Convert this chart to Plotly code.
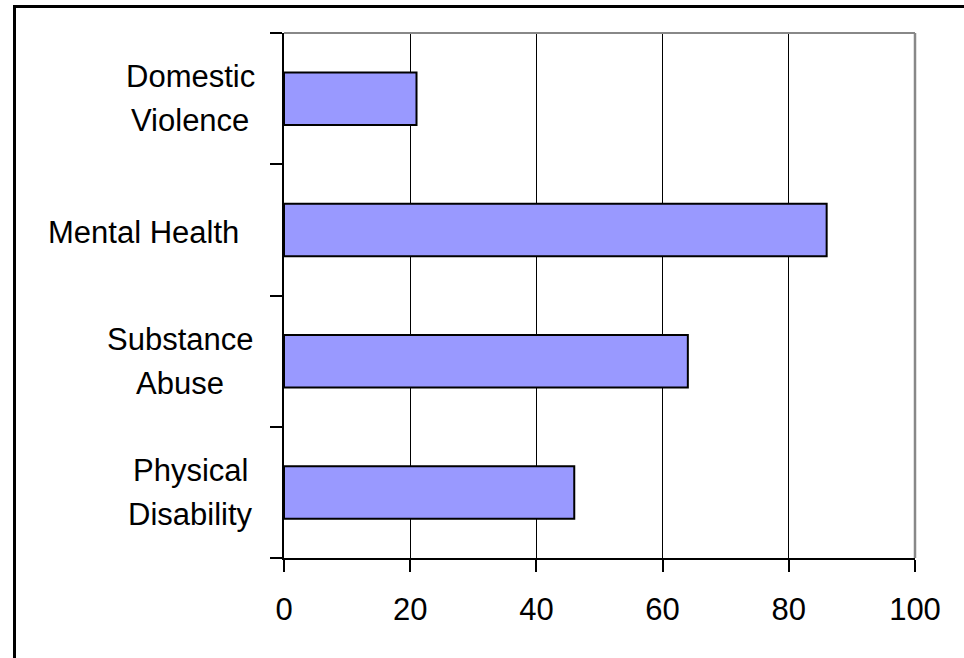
import plotly.graph_objects as go

categories = ["Domestic Violence", "Mental Health", "Substance Abuse", "Physical Disability"]
values = [21, 86, 64, 46]
label_lines = [["Domestic", "Violence"], ["Mental Health\u00a0"], ["Substance", "Abuse"], ["Physical", "Disability"]]
x_ticks = [0, 20, 40, 60, 80, 100]

W, H = 964, 658
L, R, T, B = 284, 49, 33, 100
pw = W - L - R
ph = H - T - B

def px_to_paper_x(px):
    return (px - L) / pw

def px_to_paper_y(py):
    return (H - B - py) / ph

FONT = "Liberation Sans, Arial, sans-serif"
FS = 31

fig = go.Figure()
fig.add_trace(go.Bar(
    y=categories, x=values, orientation="h",
    marker=dict(color="#9999FF", line=dict(color="black", width=2)),
    hoverinfo="skip",
))

label_centers = [190, 148, 180, 190]
annotations = []
for cat, lines, cx in zip(categories, label_lines, label_centers):
    n = len(lines)
    for i, line in enumerate(lines):
        shift = 22 if n == 2 and i == 0 else (-22 if n == 2 else -3)
        annotations.append(dict(
            x=px_to_paper_x(cx), xref="paper", y=cat, yref="y",
            text=line, showarrow=False, xanchor="center", yanchor="middle",
            yshift=shift, font=dict(family=FONT, size=FS, color="black"),
        ))

shapes = [
    # plot-area gray top and right border
    dict(type="line", xref="paper", yref="paper", x0=0, x1=1, y0=1, y1=1,
         line=dict(color="#888888", width=2)),
    dict(type="line", xref="paper", yref="paper", x0=1, x1=1, y0=0, y1=1,
         line=dict(color="#888888", width=2.5)),
    # outer chart border (left and top visible)
    dict(type="line", xref="paper", yref="paper",
         x0=px_to_paper_x(14.5), x1=px_to_paper_x(14.5), y0=px_to_paper_y(5), y1=px_to_paper_y(700),
         line=dict(color="black", width=3)),
    dict(type="line", xref="paper", yref="paper",
         x0=px_to_paper_x(13), x1=px_to_paper_x(1000), y0=px_to_paper_y(6.5), y1=px_to_paper_y(6.5),
         line=dict(color="black", width=3)),
]

fig.update_layout(
    width=W, height=H,
    margin=dict(l=L, r=R, t=T, b=B, pad=0),
    paper_bgcolor="white", plot_bgcolor="white",
    showlegend=False, bargap=0.6,
    font=dict(family=FONT, size=FS, color="black"),
    annotations=annotations, shapes=shapes,
    xaxis=dict(
        range=[0, 100], tickmode="array", tickvals=x_ticks,
        ticktext=[str(v) for v in x_ticks],
        showgrid=True, gridcolor="black", gridwidth=1,
        showline=True, linecolor="black", linewidth=2,
        ticks="outside", ticklen=12, tickwidth=2, tickcolor="black",
        ticklabelstandoff=11,
        tickfont=dict(family=FONT, size=FS, color="black"),
        zeroline=False, fixedrange=True,
    ),
    yaxis=dict(
        type="category", categoryorder="array", categoryarray=categories[::-1],
        showgrid=False, showline=True, linecolor="black", linewidth=2,
        ticks="outside", ticklen=12, tickwidth=2, tickcolor="black",
        tickson="boundaries", showticklabels=False, zeroline=False, fixedrange=True,
    ),
)

fig.write_html("out.html", config={"displayModeBar": False})
